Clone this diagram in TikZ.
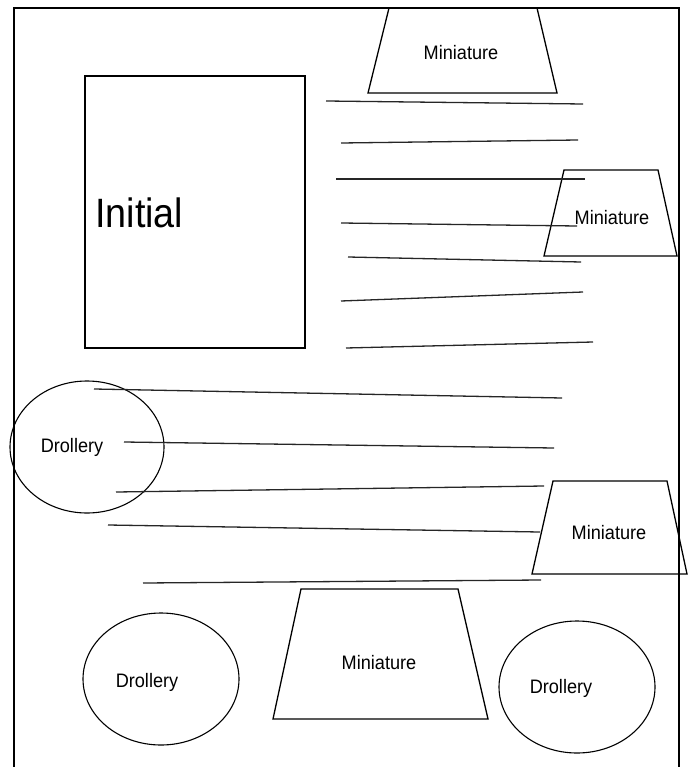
\documentclass[tikz,border=0pt]{standalone}
\usepackage{graphicx}
\usepackage{fontspec}
\setmainfont{Liberation Sans}
\newcommand{\narrowtext}[2]{\scalebox{#1}[1]{#2}}
\begin{document}
\begin{tikzpicture}[x=1pt,y=-1pt,
  shape line/.style={draw=black,line width=1.3pt,line join=miter},
  text line/.style={draw=black!85,line width=1.3pt},
  lbl/.style={inner sep=0pt,font=\fontsize{19.5}{22}\selectfont},
  biglbl/.style={inner sep=0pt,font=\fontsize{41}{46}\selectfont}]
\useasboundingbox[fill=white] (0,0) rectangle (688,767);
% page frame (open at the bottom)
\draw[shape line] (14,767) -- (14,8) -- (679,8) -- (679,767);
% initial
\draw[shape line] (85,76) rectangle (305,348);
\node[biglbl,anchor=west] (initial) at (95,213) {\narrowtext{0.92}{Initial}};
% top miniature
\draw[shape line] (389,8) -- (537,8) -- (557,93) -- (368,93) -- cycle;
\node[lbl] (mini1) at (461,53) {\narrowtext{0.93}{Miniature}};
% right miniature 1
\draw[shape line] (564,170) -- (658,170) -- (677,256) -- (544,256) -- cycle;
\node[lbl] (mini2) at (612,218) {\narrowtext{0.93}{Miniature}};
% text lines beside the initial
\draw[text line] (326,101) -- (583,104);
\draw[text line] (341,143) -- (578,140);
\draw[text line] (336,179) -- (585,179);
\draw[text line] (341,223) -- (577,226);
\draw[text line] (348,257) -- (581,262);
\draw[text line] (341,301) -- (583,292);
\draw[text line] (346,348) -- (593,342);
% left drollery
\draw[shape line,line width=1.1pt] (87,447) ellipse [x radius=77pt, y radius=66pt];
\node[lbl] (drol1) at (72,447) {\narrowtext{0.93}{Drollery}};
% text lines
\draw[text line] (94,389) -- (562,398);
\draw[text line] (124,442) -- (554,448);
\draw[text line] (116,492) -- (544,486);
\draw[text line] (108,525) -- (540,532);
\draw[text line] (143,583) -- (541,580);
% right miniature 2
\draw[shape line] (553,481) -- (667,481) -- (687,574) -- (532,574) -- cycle;
\node[lbl] (mini3) at (609,533) {\narrowtext{0.93}{Miniature}};
% bottom miniature
\draw[shape line] (301,589) -- (458,589) -- (488,719) -- (273,719) -- cycle;
\node[lbl] (mini4) at (379,663) {\narrowtext{0.93}{Miniature}};
% bottom drolleries
\draw[shape line,line width=1.1pt] (161,679) ellipse [x radius=78pt, y radius=66pt];
\node[lbl] (drol2) at (147,682) {\narrowtext{0.93}{Drollery}};
\draw[shape line,line width=1.1pt] (577,687) ellipse [x radius=78pt, y radius=66pt];
\node[lbl] (drol3) at (561,688) {\narrowtext{0.93}{Drollery}};
\end{tikzpicture}
\end{document}
